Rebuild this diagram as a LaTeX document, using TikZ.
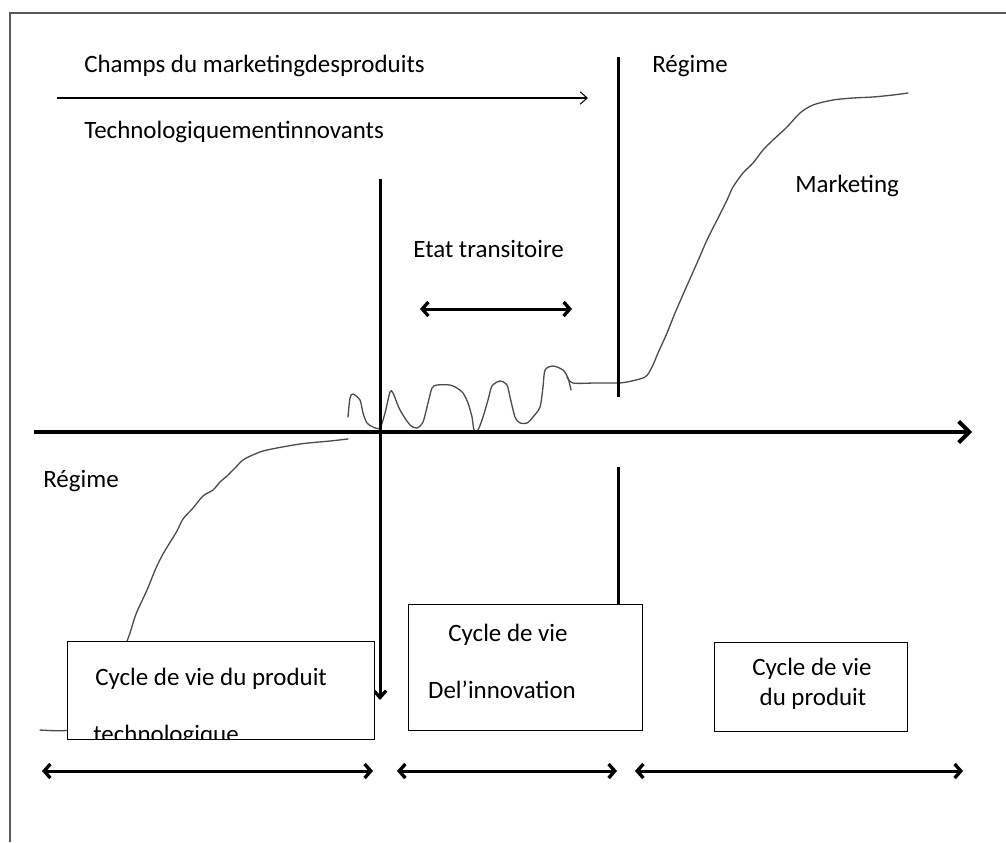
\documentclass[tikz,border=0pt]{standalone}
\usepackage{fontspec}
\setmainfont{Carlito}
\usetikzlibrary{arrows.meta}
\begin{document}
\begin{tikzpicture}[x=0.02cm,y=-0.02cm,
  txt/.style={font=\fontsize{14.2}{16}\selectfont, inner sep=0pt, anchor=base west},
  ctxt/.style={font=\fontsize{14.2}{16}\selectfont, inner sep=0pt, anchor=base},
  frame/.style={draw=black!65, line width=0.8pt},
  hand/.style={draw=black!70, line width=0.75pt, line join=round, line cap=round},
  bar/.style={draw=black, line width=1.7pt},
  axis/.style={draw=black, line width=2.4pt,
    -{Straight Barb[length=6pt,width=12pt,line width=2.3pt]}},
  span/.style={draw=black, line width=1.7pt,
    {Straight Barb[length=3.5pt,width=8pt,line width=1.9pt]}-{Straight Barb[length=3.5pt,width=8pt,line width=1.9pt]}},
  downarrow/.style={bar, -{Straight Barb[length=4pt,width=7pt,line width=1.8pt]}},
  thinarrow/.style={draw=black, line width=0.6pt, -{Straight Barb[length=4pt,width=7pt,line width=0.6pt]}},
  cbox/.style={draw=black, line width=0.7pt, fill=white, inner sep=0pt, anchor=north west}
]
\useasboundingbox (0,0) rectangle (1006,842);

% page frame (left and top edges)
\draw[frame] (10,842) -- (10,13) -- (1006,13);

% heading and its arrow
\node[txt] (champs) at (84,72) {Champs du marketingdesproduits};
\coordinate (ha0) at (57,98);
\coordinate (ha1) at (588,98);
\draw[thinarrow] (ha0) -- (ha1);
\node[txt] (techno) at (84,138) {Technologiquementinnovants};

% other labels
\node[txt] (regimeR) at (652,72) {Régime};
\node[txt] (marketing) at (795,192) {Marketing};
\node[txt] (etat) at (413,257) {Etat transitoire};
\node[txt] (regimeL) at (43,487) {Régime};

% transition span
\coordinate (et0) at (420,309);
\coordinate (et1) at (572,309);
\draw[span] (et0) -- (et1);

% hand-drawn S-curve of the technological regime
\draw[hand] plot[smooth, tension=0.5] coordinates {
  (40,730) (70,730) (95,718) (112,690) (122,655) (130,633) (136,614) (147,590)
  (156,568) (163,554) (169,544) (177,531) (183,519) (193,508) (203,496)
  (213,490) (220,482) (227,476) (235,468) (243,460) (255,454) (267,450)
  (300,444) (330,441) (348,439)};

% hand-drawn oscillations of the transitory state
\draw[hand] plot[smooth, tension=0.45] coordinates {
  (348,417) (350,398) (353,394) (360,400) (363,413) (367,423) (373,427)
  (380,428) (385,413) (390,392) (393,393) (400,410) (410,425) (417,428)
  (423,422) (428,403) (432,388) (437,385) (450,385) (457,388) (463,393)
  (468,403) (472,417) (474,430) (478,430) (483,417) (488,400) (492,386)
  (500,381) (507,385) (510,397) (515,417) (520,423) (527,423) (533,417)
  (540,407) (543,387) (545,370) (553,366) (563,370) (568,378) (571,390)};

% hand-drawn S-curve of the marketing regime
\draw[hand] plot[smooth, tension=0.5] coordinates {
  (567,377) (573,383) (595,383) (617,383) (627,382) (645,377) (652,367)
  (658,353) (667,333) (675,313) (685,290) (697,263) (707,240) (717,220)
  (727,200) (733,187) (743,173) (753,163) (763,150) (773,140) (787,127)
  (800,113) (813,105) (833,100) (853,98) (873,97) (893,95) (908,93)};

% time axis
\coordinate (ax0) at (34,432);
\coordinate (ax1) at (972,432);
\draw[axis] (ax0) -- (ax1);

% regime boundaries
\coordinate (v1top) at (380,179);
\coordinate (v1bot) at (380,700);
\draw[downarrow] (v1top) -- (v1bot);
\coordinate (v2top) at (618,57);
\coordinate (v2bot) at (618,397);
\draw[bar] (v2top) -- (v2bot);

% life-cycle boxes
\node[cbox, minimum width=6.14cm, minimum height=1.96cm] (b1) at (67,641) {};
\begin{scope}
  \clip (67,641) rectangle (374,739);
  \node[txt] (b1a) at (95,685) {Cycle de vie du produit};
  \node[txt] (b1b) at (93,742) {technologique};
\end{scope}

\node[cbox, minimum width=4.68cm, minimum height=2.52cm] (b2) at (408,604) {};
\node[ctxt] (b2a) at (508,641) {Cycle de vie};
\node[ctxt] (b2b) at (502,698) {Del’innovation};

\node[cbox, minimum width=3.86cm, minimum height=1.78cm] (b3) at (714,642) {};
\node[ctxt] (b3a) at (812,675) {Cycle de vie};
\node[ctxt] (b3b) at (813,705) {du produit};

% link from the axis down to the innovation box
\coordinate (v3top) at (618,467);
\draw[bar] (v3top) -- (v3top |- b2.north);

% duration spans
\coordinate (s1a) at (42,771);
\coordinate (s1b) at (373,771);
\coordinate (s2a) at (397,771);
\coordinate (s2b) at (617,771);
\coordinate (s3a) at (635,771);
\coordinate (s3b) at (963,771);
\draw[span] (s1a) -- (s1b);
\draw[span] (s2a) -- (s2b);
\draw[span] (s3a) -- (s3b);
\end{tikzpicture}
\end{document}
